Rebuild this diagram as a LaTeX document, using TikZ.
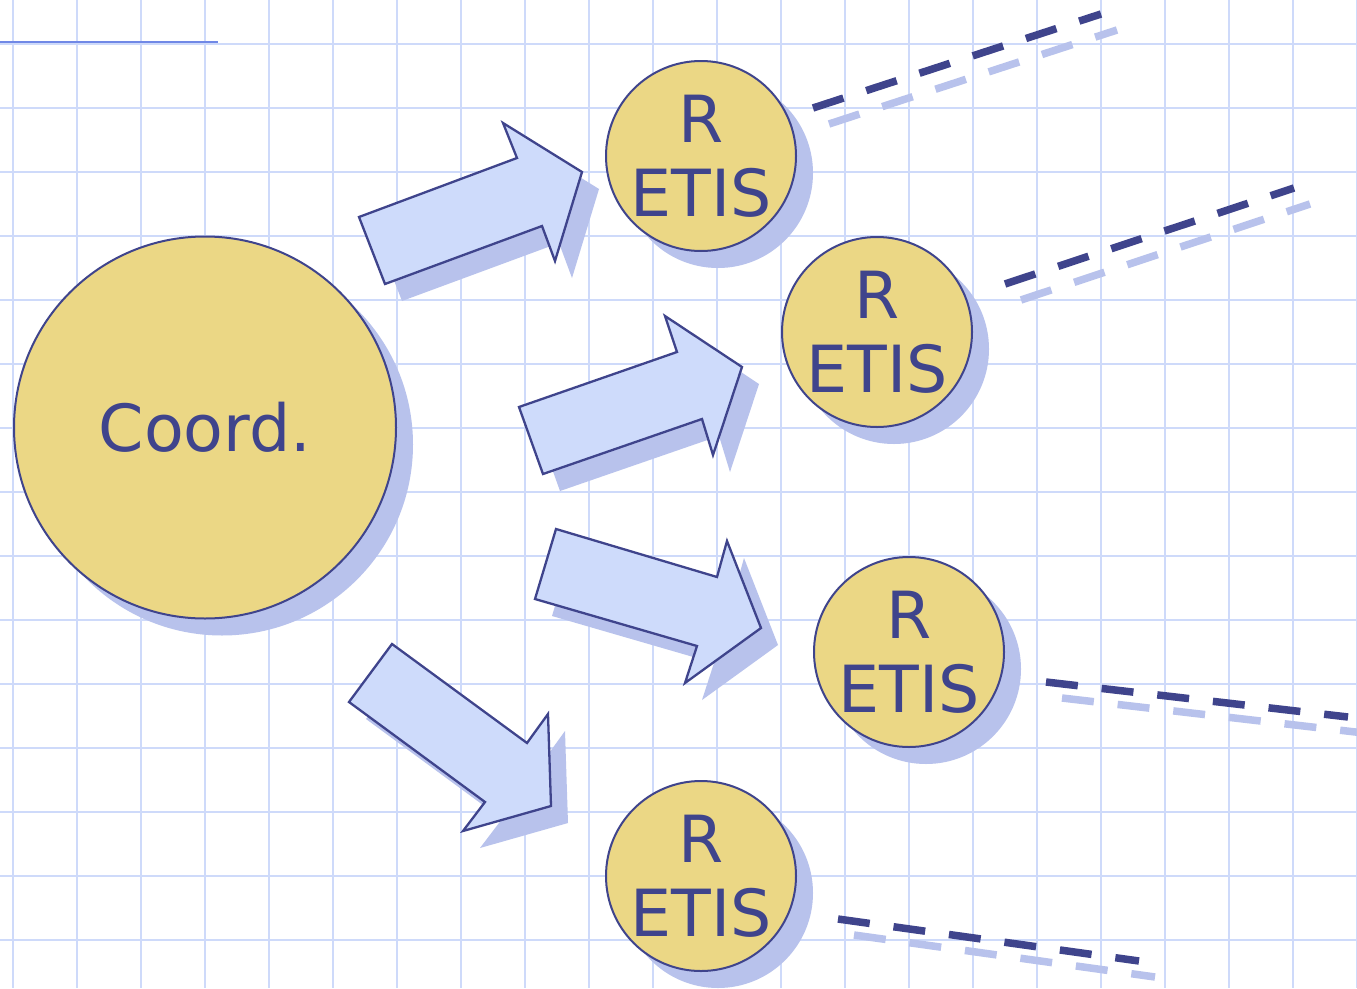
\documentclass[tikz,border=0pt]{standalone}
\usepackage{fontspec}
\setmainfont{DejaVu Sans}
\usetikzlibrary{shadows}
\definecolor{gridc}{RGB}{206,218,250}
\definecolor{fillc}{RGB}{235,215,133}
\definecolor{inkc}{RGB}{63,68,140}
\definecolor{shadc}{RGB}{184,194,236}
\definecolor{arrowc}{RGB}{206,219,251}
\definecolor{topc}{RGB}{112,136,230}
\begin{document}
\begin{tikzpicture}[x=1pt,y=-1pt,
  gridline/.style={gridc,line width=2pt},
  myshadow/.style={drop shadow={shadow xshift=17pt,shadow yshift=-17pt,fill=shadc,opacity=1}},
  bubble/.style={circle,draw=inkc,line width=2pt,fill=fillc,text=inkc,inner sep=0pt,
    align=center,font=\fontsize{65}{74}\selectfont,myshadow},
  blockarrow/.style={draw=inkc,line width=2.3pt,fill=arrowc,line join=miter,myshadow},
  dashdark/.style={inkc,line width=7.5pt,dash pattern=on 32pt off 24pt},
  dashlight/.style={shadc,line width=7.5pt,dash pattern=on 32pt off 24pt},
  topline/.style={topc,line width=2pt}]
\useasboundingbox (0,0) rectangle (1357,988);
\fill[white] (0,0) rectangle (1357,988);
\clip (0,0) rectangle (1357,988);
% grid
\foreach \k in {0,...,21} \draw[gridline] ({13+64*\k},0) -- ({13+64*\k},988);
\foreach \k in {0,...,14} \draw[gridline] (0,{43.5+64*\k}) -- (1357,{43.5+64*\k});
% top-left line
\coordinate (tl1) at (0,42);
\coordinate (tl2) at (218,42);
\draw[topline] (tl1) -- (tl2);
% circles
\node[bubble,minimum size=382pt] (coord) at (205,427.5) {Coord.};
\node[bubble,minimum size=190pt] (r1) at (701,156) {R\\ETIS};
\node[bubble,minimum size=190pt] (r2) at (877,332) {R\\ETIS};
\node[bubble,minimum size=190pt] (r3) at (909,652) {R\\ETIS};
\node[bubble,minimum size=190pt] (r4) at (701,876) {R\\ETIS};
% block arrows
\path[blockarrow] (359,217) -- (517,158) -- (503,123) -- (582,172) -- (555,261) -- (542,226) -- (385,284) -- cycle;
\path[blockarrow] (519,407) -- (677,352) -- (665,316) -- (742,367) -- (713,455) -- (702,419) -- (543,474) -- cycle;
\path[blockarrow] (556,529) -- (717,577) -- (727,541) -- (761,628) -- (685,683) -- (697,646) -- (535,599) -- cycle;
\path[blockarrow] (392,644) -- (527,743) -- (548,714) -- (551,806) -- (463,831) -- (485,802) -- (349,702) -- cycle;
% dashed lines
\coordinate (a1) at (813,108);  \coordinate (b1) at (1101,14);
\coordinate (a2) at (1005,284); \coordinate (b2) at (1294,188);
\coordinate (a3) at (1046,682); \coordinate (b3) at (1348,717);
\coordinate (a4) at (838,919);  \coordinate (b4) at (1139,961);
\foreach \i in {1,2,3,4} {
  \draw[dashlight] ([xshift=16pt,yshift=-16pt]a\i) -- ([xshift=16pt,yshift=-16pt]b\i);
  \draw[dashdark] (a\i) -- (b\i);
}
\end{tikzpicture}
\end{document}
